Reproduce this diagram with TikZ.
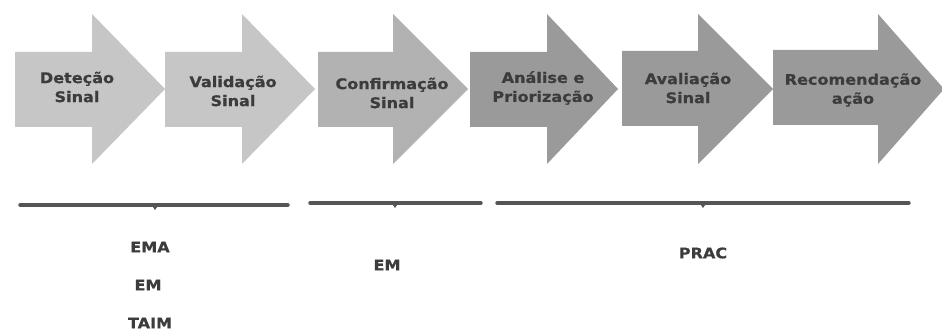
\documentclass[tikz,border=0pt]{standalone}
\usepackage{fontspec}
\newfontfamily\lab[FakeStretch=1.1,BoldFont={DejaVu Sans Bold},BoldFeatures={FakeStretch=1.1,FakeBold=0.6}]{DejaVu Sans}
\definecolor{cA}{HTML}{C6C6C6}
\definecolor{cB}{HTML}{B2B2B2}
\definecolor{cC}{HTML}{9A9A9A}
\definecolor{tx}{HTML}{3C3C3C}
\definecolor{br}{HTML}{555555}
\newcommand\myarrow[5]{\fill[#4] (#1,#5) -- (#2,#5) -- (#2,14) -- (#3,89) -- (#2,164) -- (#2,#5+75) -- (#1,#5+75) -- cycle;}
\tikzset{
  lbl/.style={font=\lab\bfseries\fontsize{14.6}{19}\selectfont, text=tx, align=center, inner sep=0pt},
  brline/.style={draw=br, line width=3.4pt, line cap=round},
}
\begin{document}
\begin{tikzpicture}[x=1pt,y=-1pt]
\useasboundingbox (0,0) rectangle (942,331);
\fill[white] (0,0) rectangle (942,331);
\myarrow{15}{92}{165}{cA}{52}
\myarrow{165}{242}{315}{cA}{52}
\myarrow{318}{393}{468}{cB}{52}
\myarrow{470}{547}{618}{cC}{52}
\myarrow{622}{698}{773}{cC}{51}
\myarrow{773}{878}{944}{cC}{50}
\node[lbl] (t1) at (77,87) {Deteção\\Sinal};
\node[lbl] (t2) at (233,91) {Validação\\Sinal};
\node[lbl] (t3) at (392,93) {Confirmação\\Sinal};
\node[lbl] (t4) at (543,88) {Análise e\\Priorização};
\node[lbl] (t5) at (688,88) {Avaliação\\Sinal};
\node[lbl] (t6) at (853,90) {Recomendação\\ação};
% braces
\coordinate (b1l) at (20,205); \coordinate (b1r) at (288,205); \coordinate (b1m) at (155,205);
\coordinate (b2l) at (310,203); \coordinate (b2r) at (481,203); \coordinate (b2m) at (395,203);
\coordinate (b3l) at (497,203); \coordinate (b3r) at (909,203); \coordinate (b3m) at (703,203);
\draw[brline] (b1l) -- (b1r);
\draw[brline] (b2l) -- (b2r);
\draw[brline] (b3l) -- (b3r);
\fill[br] ([xshift=-3.5pt]b1m) -- ([xshift=3.5pt]b1m) -- ([yshift=-5pt]b1m) -- cycle;
\fill[br] ([xshift=-3.5pt]b2m) -- ([xshift=3.5pt]b2m) -- ([yshift=-5pt]b2m) -- cycle;
\fill[br] ([xshift=-3.5pt]b3m) -- ([xshift=3.5pt]b3m) -- ([yshift=-5pt]b3m) -- cycle;
\node[lbl] (ema) at (150,247) {EMA};
\node[lbl] (em1) at (148,285) {EM};
\node[lbl] (taim) at (150,323) {TAIM};
\node[lbl] (em2) at (387,265) {EM};
\node[lbl] (prac) at (703,253) {PRAC};
\end{tikzpicture}
\end{document}
